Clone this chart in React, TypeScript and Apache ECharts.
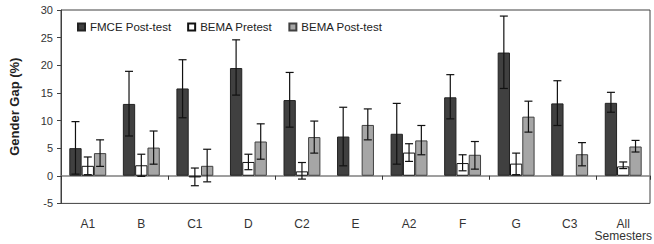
import React, { useEffect, useRef } from "react";
import * as echarts from "echarts";

const categories = ["A1", "B", "C1", "D", "C2", "E", "A2", "F", "G", "C3", "All\nSemesters"];
const seriesNames = ["FMCE Post-test", "BEMA Pretest", "BEMA Post-test"];
const fmce = [5.0, 13.0, 15.8, 19.5, 13.7, 7.1, 7.6, 14.2, 22.3, 13.1, 13.2];
const fmceLow = [0.3, 7.2, 10.5, 14.6, 8.8, 1.8, 2.1, 10.3, 15.8, 9.1, 11.5];
const fmceHigh = [9.8, 18.9, 21.0, 24.6, 18.7, 12.4, 13.1, 18.3, 28.9, 17.2, 15.1];
const pre = [1.8, 1.9, -0.3, 2.5, 0.8, null, 4.2, 2.3, 2.2, null, 1.7];
const preLow = [0.2, -0.1, -1.8, 1.1, -0.6, null, 2.6, 0.9, 0.2, null, 1.3];
const preHigh = [3.4, 3.9, 1.4, 3.9, 2.4, null, 5.8, 3.8, 4.1, null, 2.5];
const post = [4.1, 5.1, 1.8, 6.2, 7.0, 9.2, 6.4, 3.8, 10.7, 3.9, 5.3];
const postLow = [1.7, 2.1, -1.1, 3.0, 4.1, 6.5, 3.8, 1.2, 7.9, 1.8, 4.3];
const postHigh = [6.5, 8.1, 4.8, 9.4, 9.9, 12.1, 9.1, 6.2, 13.5, 6.0, 6.4];
const yTicks = { min: -5, max: 30, interval: 5 };

const BAR_W = 12.3;
const FONT = "'Liberation Sans', Arial, sans-serif";

function errorSeries(low: (number | null)[], high: (number | null)[], offset: number) {
  const data = low
    .map((l, i) => (l == null || high[i] == null ? null : [i, l, high[i]]))
    .filter((d) => d != null);
  return {
    type: "custom",
    xAxisIndex: 0,
    z: 5,
    silent: true,
    data,
    encode: { x: 0, y: [1, 2] },
    renderItem: (params: any, api: any) => {
      const x = api.coord([api.value(0), 0])[0] + offset;
      const yl = api.coord([api.value(0), api.value(1)])[1];
      const yh = api.coord([api.value(0), api.value(2)])[1];
      const cap = 4;
      const style = { stroke: "#111", lineWidth: 1.2 };
      return {
        type: "group",
        children: [
          { type: "line", shape: { x1: x, y1: yl, x2: x, y2: yh }, style },
          { type: "line", shape: { x1: x - cap, y1: yl, x2: x + cap, y2: yl }, style },
          { type: "line", shape: { x1: x - cap, y1: yh, x2: x + cap, y2: yh }, style },
        ],
      };
    },
  };
}

export default function App() {
  const ref = useRef<HTMLDivElement>(null);
  useEffect(() => {
    if (!ref.current) return;
    const chart = echarts.init(ref.current, undefined, { renderer: "svg" });
    const colors = ["#404040", "#ffffff", "#a6a6a6"];
    const borders = ["#222222", "#111111", "#404040"];
    const values = [fmce, pre, post];
    chart.setOption({
      animation: false,
      textStyle: { fontFamily: FONT },
      grid: {
        left: 61,
        right: 4,
        top: 10,
        height: 193.4,
        outerBoundsMode: "none",
        containLabel: false,
        show: true,
        borderColor: "#404040",
        borderWidth: 1,
        backgroundColor: "transparent",
      },
      legend: {
        data: seriesNames,
        left: 72,
        top: 16,
        itemWidth: 7,
        itemHeight: 7,
        itemGap: 16,
        icon: "rect",
        textStyle: { fontSize: 11.5, color: "#222", fontFamily: FONT },
      },
      xAxis: [
        {
          type: "category",
          data: categories,
          position: "bottom",
          axisLine: { onZero: true, lineStyle: { color: "#808080", width: 1.5 } },
          axisTick: { show: true, inside: false, length: 4, lineStyle: { color: "#333" } },
          axisLabel: { show: false },
        },
        {
          type: "category",
          data: categories,
          position: "bottom",
          axisLine: { show: false, onZero: false },
          axisTick: { show: false },
          axisLabel: {
            show: true,
            interval: 0,
            margin: 14,
            fontSize: 12,
            color: "#333",
            lineHeight: 12.5,
            fontFamily: FONT,
          },
        },
      ],
      yAxis: {
        type: "value",
        min: yTicks.min,
        max: yTicks.max,
        interval: yTicks.interval,
        name: "Gender Gap (%)",
        nameLocation: "middle",
        nameGap: 40,
        nameTextStyle: { fontSize: 13, fontWeight: "bold", color: "#222", fontFamily: FONT },
        axisLine: { show: true, lineStyle: { color: "#404040" } },
        axisTick: { show: true, length: 4, lineStyle: { color: "#404040" } },
        axisLabel: { fontSize: 11, color: "#333", margin: 8, fontFamily: FONT },
        splitLine: { show: false },
      },
      series: [
        ...seriesNames.map((name, k) => ({
          name,
          type: "bar",
          xAxisIndex: 0,
          data: values[k],
          barWidth: BAR_W,
          barGap: "0%",
          itemStyle: { color: colors[k], borderColor: borders[k], borderWidth: 1 },
          z: 3,
        })),
        errorSeries(fmceLow, fmceHigh, -BAR_W),
        errorSeries(preLow, preHigh, 0),
        errorSeries(postLow, postHigh, BAR_W),
      ],
    });
    return () => chart.dispose();
  }, []);
  return (
    <div
      ref={ref}
      style={{ position: "absolute", left: 0, top: 0, width: 654, height: 244 }}
    />
  );
}
